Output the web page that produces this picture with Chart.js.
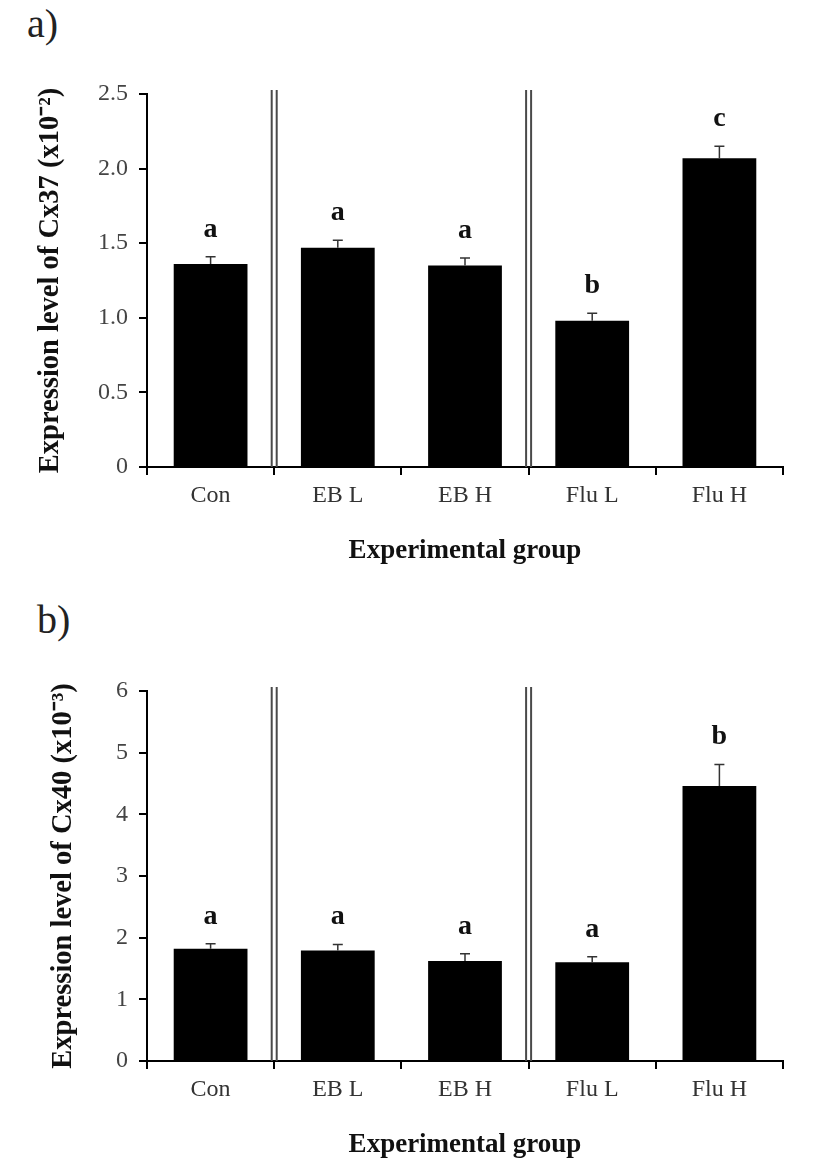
<!DOCTYPE html>
<html>
<head>
<meta charset="utf-8">
<script src="https://cdn.jsdelivr.net/npm/chart.js@4/dist/chart.umd.min.js"></script>
<style>
  html, body { margin: 0; padding: 0; background: #fff; }
  body { width: 827px; height: 1172px; position: relative; overflow: hidden; }
  .panel { position: absolute; font-family: 'Liberation Serif', 'Times New Roman', serif; font-size: 40px; color: #222; }
  .wrap { position: absolute; left: 0; width: 827px; }
</style>
</head>
<body>
<div class="panel" style="left:27px; top:0px;">a)</div>
<div class="panel" style="left:37px; top:596px;">b)</div>
<div class="wrap" style="top:0; height:590px;"><canvas id="chartA" width="827" height="590"></canvas></div>
<div class="wrap" style="top:590px; height:582px;"><canvas id="chartB" width="827" height="582"></canvas></div>
<script>
// ---- data ----
const categories = ['Con', 'EB L', 'EB H', 'Flu L', 'Flu H'];

const cx37Values = [1.36, 1.47, 1.35, 0.98, 2.07];
const cx37Errors = [0.05, 0.05, 0.05, 0.05, 0.08];
const cx37Letters = ['a', 'a', 'a', 'b', 'c'];
const cx37TickLabels = ['0', '0.5', '1.0', '1.5', '2.0', '2.5'];

const cx40Values = [1.82, 1.79, 1.62, 1.60, 4.46];
const cx40Errors = [0.08, 0.10, 0.12, 0.09, 0.35];
const cx40Letters = ['a', 'a', 'a', 'a', 'b'];
const cx40TickLabels = ['0', '1', '2', '3', '4', '5', '6'];

const separatorAfter = [0, 2]; // double lines after these category indices

// ---- plugin: error bars, letters, separators ----
const annotPlugin = {
  id: 'annot',
  afterDatasetsDraw(chart, args, opts) {
    const ctx = chart.ctx;
    const xs = chart.scales.x, ys = chart.scales.y;
    const meta = chart.getDatasetMeta(0);
    const vals = chart.data.datasets[0].data;
    const area = chart.chartArea;
    ctx.save();
    // separators
    ctx.strokeStyle = '#4a4a4a';
    ctx.lineWidth = 2;
    opts.separators.forEach(k => {
      const xm = (xs.getPixelForValue(k) + xs.getPixelForValue(k + 1)) / 2;
      [-2.5, 2.5].forEach(d => {
        ctx.beginPath();
        ctx.moveTo(xm + d, area.top - 4);
        ctx.lineTo(xm + d, area.bottom);
        ctx.stroke();
      });
    });
    // error bars
    ctx.strokeStyle = '#333';
    ctx.lineWidth = 1.5;
    meta.data.forEach((bar, i) => {
      const yb = ys.getPixelForValue(vals[i]);
      const yt = ys.getPixelForValue(vals[i] + opts.errors[i]);
      ctx.beginPath();
      ctx.moveTo(bar.x, yb);
      ctx.lineTo(bar.x, yt);
      ctx.moveTo(bar.x - 5, yt);
      ctx.lineTo(bar.x + 5, yt);
      ctx.stroke();
      // letters
      ctx.fillStyle = '#111';
      ctx.font = 'bold 28px "Liberation Serif", "Times New Roman", serif';
      ctx.textAlign = 'center';
      ctx.textBaseline = 'alphabetic';
      ctx.fillText(opts.letters[i], bar.x, yt - 20);
    });
    ctx.restore();
  }
};

function makeChart(id, values, errors, letters, tickLabels, yMax, step, yTitle, layoutPad, yTitlePad) {
  return new Chart(document.getElementById(id), {
    type: 'bar',
    data: {
      labels: categories,
      datasets: [{
        data: values,
        backgroundColor: '#000',
        borderColor: '#000',
        borderWidth: 0,
        barPercentage: 0.58,
        categoryPercentage: 1.0
      }]
    },
    options: {
      responsive: false,
      animation: false,
      events: [],
      layout: { padding: layoutPad },
      plugins: {
        legend: { display: false },
        tooltip: { enabled: false },
        annot: { errors: errors, letters: letters, separators: separatorAfter }
      },
      scales: {
        x: {
          afterFit(s) { s.height = 110; },
          border: { display: true, color: '#000', width: 2 },
          grid: { display: true, offset: true, drawOnChartArea: false, drawTicks: true, tickLength: 8, color: '#000', lineWidth: 2 },
          ticks: {
            color: '#333',
            padding: 6,
            font: { family: '"Liberation Serif", "Times New Roman", serif', size: 24 }
          },
          title: {
            display: true,
            text: 'Experimental group',
            color: '#111',
            font: { family: '"Liberation Serif", "Times New Roman", serif', size: 27, weight: 'bold', lineHeight: 1.2 },
            padding: { top: 0, bottom: 10 }
          }
        },
        y: {
          min: 0,
          max: yMax,
          afterFit(s) { s.width = 147; },
          border: { display: true, color: '#000', width: 2 },
          grid: { display: true, drawOnChartArea: false, drawTicks: true, tickLength: 8, color: '#000', lineWidth: 2 },
          ticks: {
            stepSize: step,
            color: '#444',
            padding: 11,
            font: { family: '"Liberation Serif", "Times New Roman", serif', size: 24 },
            callback: (v, i) => tickLabels[i]
          },
          title: {
            display: true,
            text: yTitle,
            color: '#111',
            font: { family: '"Liberation Serif", "Times New Roman", serif', size: 28.5, weight: 'bold', lineHeight: 1.2 },
            padding: { top: yTitlePad, bottom: 0 }
          }
        }
      }
    },
    plugins: [annotPlugin]
  });
}

makeChart('chartA', cx37Values, cx37Errors, cx37Letters, cx37TickLabels, 2.5, 0.5,
  'Expression level of Cx37 (x10\u207B\u00B2)', { top: 94, right: 44, left: 0, bottom: 13 }, 34);
makeChart('chartB', cx40Values, cx40Errors, cx40Letters, cx40TickLabels, 6, 1,
  'Expression level of Cx40 (x10\u207B\u00B3)', { top: 101, right: 44, left: 0, bottom: 1 }, 47);
</script>
</body>
</html>
